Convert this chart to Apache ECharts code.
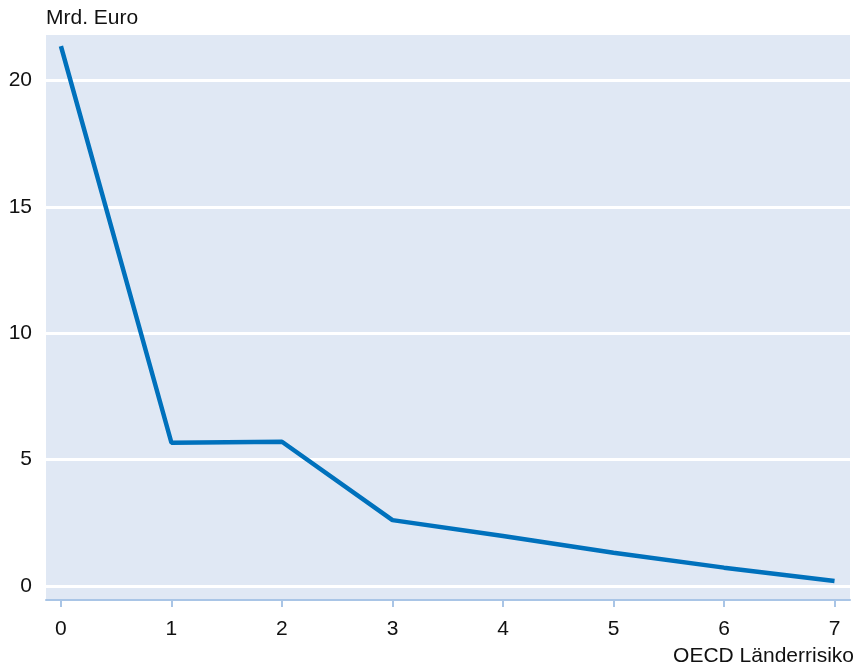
<!DOCTYPE html>
<html>
<head>
<meta charset="utf-8">
<script src="https://cdn.jsdelivr.net/npm/echarts@6/dist/echarts.min.js"></script>
<style>html,body{margin:0;padding:0;background:#fff}#c{width:860px;height:672px}</style>
</head>
<body>
<div id="c"></div>
<script>
const xValues = [0, 1, 2, 3, 4, 5, 6, 7];
const values = [21.36, 5.67, 5.71, 2.61, 1.98, 1.32, 0.73, 0.2];
const yTicks = [0, 5, 10, 15, 20];
const xTicks = [0, 1, 2, 3, 4, 5, 6, 7];
const yTitle = 'Mrd. Euro';
const xTitle = 'OECD Länderrisiko';

const chart = echarts.init(document.getElementById('c'), null, {renderer: 'canvas'});
const font = 'Liberation Sans, Arial, sans-serif';
chart.setOption({
  animation: false,
  title: [
    {text: yTitle, left: 42, top: 6, padding: [2, 4], textStyle: {fontFamily: font, fontSize: 21, fontWeight: 'normal', color: '#111'}},
    {text: xTitle, right: 4, top: 644, padding: [2, 2], textStyle: {fontFamily: font, fontSize: 21, fontWeight: 'normal', color: '#111'}}
  ],
  grid: {left: 46, right: 10, top: 35, bottom: 72, backgroundColor: '#e0e8f4', show: true, borderWidth: 0},
  xAxis: {
    type: 'value', min: -0.135, max: 7.14,
    axisLine: {show: true, onZero: false, lineStyle: {color: '#a9c5e6', width: 2}},
    axisTick: {show: true, length: 7, inside: false, lineStyle: {color: '#a9c5e6', width: 2}, customValues: xTicks},
    axisLabel: {customValues: xTicks, margin: 19, fontFamily: font, fontSize: 21, color: '#111'},
    splitLine: {show: false}
  },
  yAxis: {
    type: 'value', min: -0.55, max: 21.8,
    axisLine: {show: false},
    axisTick: {show: false, customValues: yTicks},
    axisLabel: {customValues: yTicks, margin: 14, fontFamily: font, fontSize: 21, color: '#111'},
    splitLine: {show: true, lineStyle: {color: '#ffffff', width: 3}}
  },
  series: [{
    type: 'line',
    data: xValues.map((x, i) => [x, values[i]]),
    showSymbol: false,
    lineStyle: {color: '#0071bc', width: 4.5},
    itemStyle: {color: '#0071bc'}
  }]
});
</script>
</body>
</html>
